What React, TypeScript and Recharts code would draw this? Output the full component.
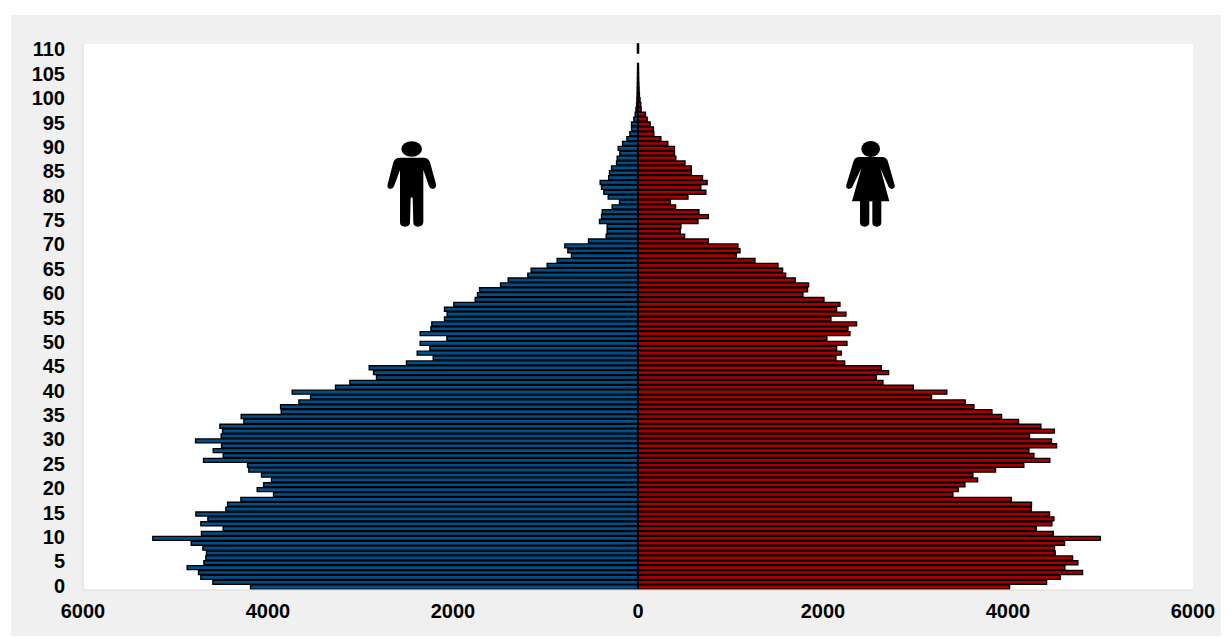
import React from "react";
import { BarChart, Bar, XAxis, YAxis, CartesianGrid } from "recharts";

const male = [
  4189,4596,4726,4751,4874,4693,4672,4665,4704,4830,
  5245,4719,4484,4726,4650,4780,4455,4437,4293,3940,
  4117,4048,3962,4070,4207,4221,4697,4484,4592,4502,
  4783,4506,4491,4520,4261,4290,3857,3864,3666,3540,
  3738,3270,3115,2827,2859,2906,2503,2214,2387,2250,
  2355,2066,2355,2239,2229,2092,2063,2092,1991,1760,
  1735,1713,1486,1403,1191,1155,982,874,719,758,
  791,535,344,333,333,416,394,387,279,200,
  322,369,394,409,317,308,286,232,225,196,
  214,167,120,88,70,70,45,30,22,15,
  12,10,9,8,7,6,5,4,0,0,
  6,6,
];
const female = [
  4017,4417,4564,4806,4615,4755,4698,4510,4503,4611,
  4997,4489,4305,4474,4496,4449,4251,4254,4035,3404,
  3462,3534,3671,3620,3865,4171,4452,4280,4226,4525,
  4470,4233,4500,4355,4114,3930,3826,3631,3537,3173,
  3338,2976,2648,2576,2709,2630,2234,2140,2197,2147,
  2259,2042,2291,2270,2363,2086,2248,2147,2183,2010,
  1783,1833,1844,1700,1596,1563,1513,1264,1062,1102,
  1080,760,504,457,464,648,760,659,406,349,
  540,733,679,747,697,576,576,508,409,394,
  394,322,247,171,167,131,99,81,34,30,
  22,15,12,10,8,7,6,5,0,0,
  6,6,
];
const ages = male.map((_, i) => i);
const xTicks = [-6000, -4000, -2000, 0, 2000, 4000, 6000];
const table = ages.map((age, i) => ({ age, male: -male[i], female: female[i] }));

const tickStyle = { fontFamily: "'Liberation Sans', Arial, sans-serif", fontWeight: 700, fontSize: 20, fill: "#000" };

export default function App() {
  return (
    <div style={{ position: "absolute", left: 0, top: 0, width: 1232, height: 637, background: "#fff", overflow: "hidden" }}>
      <div style={{ position: "absolute", left: 11, top: 15, width: 1210, height: 621, background: "#f0f0f0" }}>
        <BarChart
          width={1210}
          height={621}
          data={table}
          layout="vertical"
          stackOffset="sign"
          barSize={4}
          margin={{ left: 0, top: 29, right: 28, bottom: 0 }}
        >
          <CartesianGrid fill="#fff" stroke="none" horizontal={false} vertical={false} />
          <XAxis
            type="number"
            domain={[-6000, 6000]}
            ticks={xTicks}
            height={46}
            interval={0}
            tickFormatter={(v: number) => String(Math.abs(v))}
            axisLine={{ stroke: "#d9d9d9" }}
            tickLine={false}
            tickSize={0}
            tickMargin={14}
            tick={tickStyle}
          />
          <YAxis
            type="category"
            dataKey="age"
            reversed
            width={72}
            interval={4}
            axisLine={{ stroke: "#d9d9d9" }}
            tickLine={false}
            tickSize={0}
            tickMargin={18}
            tick={{ ...tickStyle, dy: -2 }}
          />
          <Bar dataKey="male" stackId="a" fill="#004f88" stroke="#000" strokeWidth={1.4} isAnimationActive={false} />
          <Bar dataKey="female" stackId="a" fill="#a80000" stroke="#000" strokeWidth={1.4} isAnimationActive={false} />
        </BarChart>
      </div>
      <svg style={{ position: "absolute", left: 380, top: 135 }} width={70} height={100} viewBox="0 0 210 300">
        <ellipse cx={95} cy={42} rx={31} ry={23} fill="#000" />
        <path
          fill="#000"
          d="M60 68 L130 68 Q146 68 150 82 L168 148 Q170 160 158 162 Q150 162 147 154 L130 105 L130 262 Q128 275 114 275 Q100 275 100 262 L98 190 Q95 184 92 190 L90 262 Q90 275 75 275 Q60 275 60 262 L60 105 L42 154 Q39 162 31 162 Q20 160 23 148 L40 82 Q44 68 60 68 Z"
        />
      </svg>
      <svg style={{ position: "absolute", left: 840, top: 135 }} width={70} height={100} viewBox="0 0 210 300">
        <ellipse cx={92} cy={42} rx={28} ry={24} fill="#000" />
        <path
          fill="#000"
          d="M58 66 L126 66 Q140 66 144 80 L164 150 Q166 160 155 162 Q147 162 145 154 L121 100 L148 199 L124 199 L124 262 Q124 275 110 275 Q97 275 97 262 L97 199 L88 199 L88 262 Q88 275 74 275 Q60 275 60 262 L60 199 L36 199 L64 100 L38 154 Q35 162 27 162 Q16 160 19 150 L40 80 Q44 66 58 66 Z"
        />
      </svg>
    </div>
  );
}
